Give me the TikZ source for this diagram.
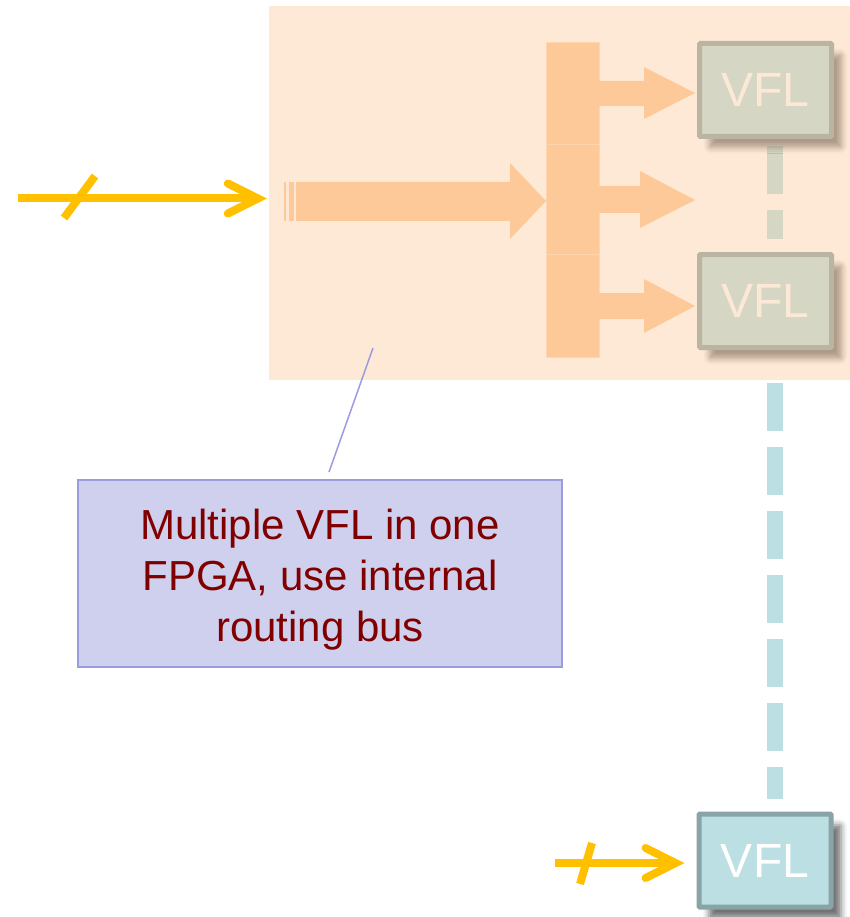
\documentclass[tikz,border=0pt]{standalone}
\usepackage{fontspec}
\setmainfont{Liberation Sans}
\usetikzlibrary{arrows.meta,shadows.blur,calc}
\definecolor{vflfill}{HTML}{BBDFE2}
\definecolor{vflline}{HTML}{88A4A6}
\definecolor{busyel}{HTML}{FFC000}
\definecolor{fpgatint}{HTML}{FACC9F}
\definecolor{blockor}{HTML}{FEC998}
\definecolor{blockedge}{HTML}{FDD6B0}
\definecolor{notefill}{HTML}{CFCFEE}
\definecolor{noteline}{HTML}{9B9BDF}
\definecolor{notetext}{HTML}{800000}
\pgfdeclarelayer{back}
\pgfsetlayers{back,main}
\tikzset{
  vfl/.style={draw=vflline, line width=5pt, fill=vflfill, rounded corners=1pt,
    minimum width=132pt, minimum height=93pt, inner sep=0pt, text=white,
    font=\fontsize{48}{48}\selectfont,
    blur shadow={shadow xshift=10pt, shadow yshift=-11pt, shadow blur radius=6pt, shadow opacity=55}},
  link/.style={draw=vflfill, line width=16pt, dash pattern=on 48pt off 16pt},
  bus/.style={draw=busyel, line width=8pt, line cap=butt,
    -{Straight Barb[length=30pt, width=30pt, line cap=round, line join=miter]}},
  tick/.style={draw=busyel, line width=8pt},
  fpgaarea/.style={fill=fpgatint, fill opacity=0.43, minimum width=581pt,
    minimum height=374pt, inner sep=0pt},
  block/.style={fill=blockor},
  splitter/.style={fill=blockor, draw=blockedge, line width=0.8pt},
  note/.style={fill=notefill, draw=noteline, line width=1.5pt,
    minimum width=484pt, minimum height=187pt, inner sep=0pt},
  notetxt/.style={text=notetext, align=center, inner sep=0pt,
    font=\fontsize{42}{51}\selectfont},
  pointer/.style={draw=noteline, line width=1.5pt}
}
\begin{document}
\begin{tikzpicture}[x=1pt, y=-1pt]
\useasboundingbox (0,0) rectangle (850,917);

% VFL blocks
\node[vfl] (vfl1) at (765.5,90) {VFL};
\node[vfl] (vfl2) at (765.5,301) {VFL};
\node[vfl] (vfl3) at (765,860.5) {VFL};

% dashed chain between the blocks
\coordinate (d1) at (775,146);
\coordinate (d2) at (775,383);
\begin{pgfonlayer}{back}
  \draw[link, shorten >=13pt] (d1) -- (d1 |- vfl2.north);
  \draw[link, shorten >=13pt] (d2) -- (d2 |- vfl3.north);
\end{pgfonlayer}

% tinted FPGA area
\node[fpgaarea] (fpga) at (559.5,193) {};

% input bus into the FPGA
\coordinate (in1) at (18,198.5);
\draw[bus, shorten >=2pt] (in1) -- (in1 -| fpga.west);
\draw[tick] (64,218) -- (95,176);

% internal routing: striped arrow into the splitter
\fill[block] (284,182) rectangle (286,221);
\fill[block] (289,182) rectangle (294,221);
\fill[block] (296,182) -- (510,182) -- (510,163) -- (546,201) -- (510,239)
  -- (510,221) -- (296,221) -- cycle;

% splitter column
\filldraw[splitter] (546,42) rectangle (599,144);
\filldraw[splitter] (546,144) rectangle (599,254);
\filldraw[splitter] (546,254) rectangle (599,357);

% outgoing block arrows
\fill[block] (599,81) -- (644,81) -- (644,67) -- (695,93) -- (644,119)
  -- (644,106) -- (599,106) -- cycle;
\fill[block] (599,186) -- (640,186) -- (640,171) -- (695,200) -- (640,228)
  -- (640,213) -- (599,213) -- cycle;
\fill[block] (599,293) -- (644,293) -- (644,279) -- (695,306) -- (644,333)
  -- (644,319) -- (599,319) -- cycle;

% input bus into the last VFL
\coordinate (in3) at (555,863);
\draw[bus, shorten >=12pt] (in3) -- (in3 -| vfl3.west);
\draw[tick] (580,884) -- (592,843);

% callout
\node[note] (cbox) at (320,573.5) {};
\node[notetxt] (ctext) at (320,579.5) {Multiple VFL in one\\FPGA, use internal\\routing bus};
\coordinate (cl) at (373,348);
\coordinate (ce) at (329,472);
\draw[pointer] (cl) -- (ce);
\end{tikzpicture}
\end{document}
